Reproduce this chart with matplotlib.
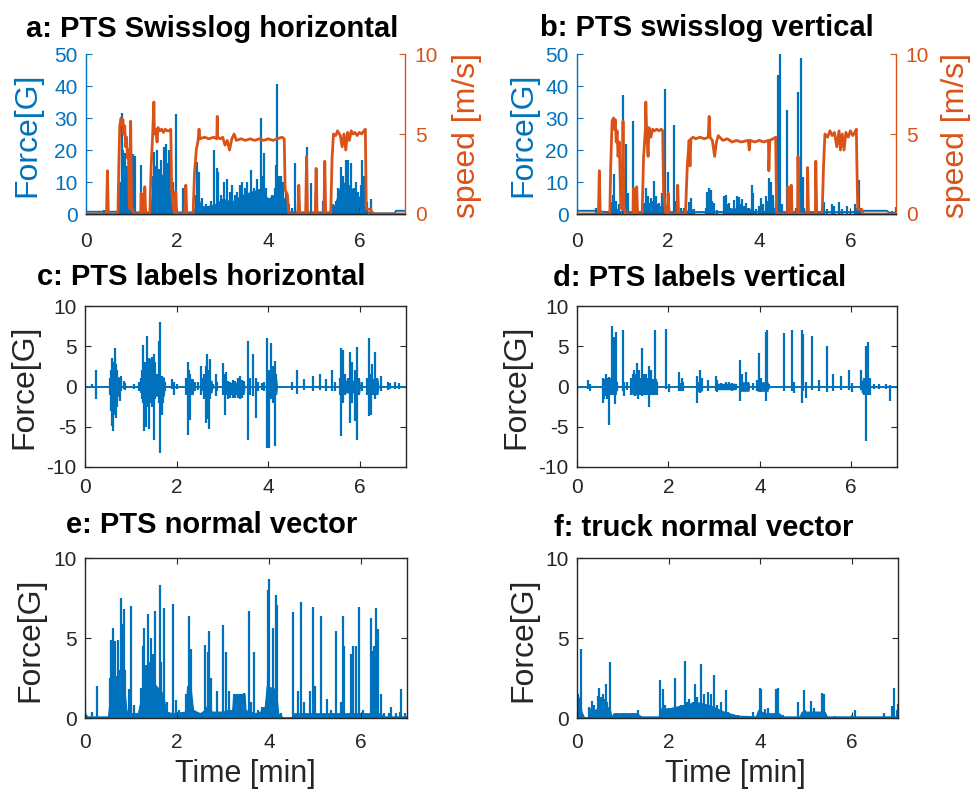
import matplotlib
matplotlib.use('Agg')
import matplotlib.pyplot as plt

plt.rcParams['font.family'] = ['Liberation Sans', 'DejaVu Sans']
plt.rcParams['axes.unicode_minus'] = False

BLUE = '#0072BD'
ORANGE = '#D95319'
DARK = '#262626'

# ---------- a : PTS Swisslog horizontal ----------
a_base_t = [0, 0.70, 0.72, 2.38, 2.40, 4.40, 4.42, 6.30, 6.32, 6.78, 6.80, 7.0]
a_base_y = [0.7, 0.7, 0.5, 0.5, 1.8, 1.8, 0.5, 0.5, 0.2, 0.2, 1.0, 1.0]
a_fill_t = [0.70, 0.72, 0.76, 0.80, 0.84, 0.88, 0.92, 0.95, 0.97,
            1.38, 1.40, 1.43, 1.48, 1.55, 1.62, 1.70, 1.78, 1.85, 1.90, 1.92,
            2.36, 2.38, 2.42, 2.46, 2.52, 2.60, 2.80, 3.00, 3.20, 3.40, 3.60, 3.80, 4.00, 4.20, 4.35, 4.40, 4.42,
            5.38, 5.40, 5.45, 5.55, 5.65, 5.75, 5.85, 5.95, 6.05, 6.12, 6.15, 6.17]
a_fill_y = [0, 2, 8, 12, 10, 9, 6, 2, 0,
            0, 1, 6, 10, 12, 13, 12, 10, 8, 2, 0,
            0, 2, 8, 6, 3, 2.5, 3, 5, 4, 6, 7, 8, 5, 7, 5, 2, 0,
            0, 2, 3, 8, 10, 9, 8, 6, 5, 4, 2, 0]
a_spk_t = [0.40, 0.75, 0.78, 0.80, 0.82, 0.85, 0.89, 0.94, 0.98, 1.04, 1.07, 1.20, 1.24, 1.29,
           1.42, 1.46, 1.49, 1.52, 1.55, 1.60, 1.65, 1.71, 1.75, 1.78, 1.82, 1.86, 1.92, 1.98,
           2.12, 2.19,
           2.41, 2.44, 2.49, 2.55, 2.63, 2.74, 2.81, 2.87, 2.90, 2.97, 3.03, 3.10, 3.16, 3.21, 3.26, 3.32, 3.38,
           3.43, 3.48, 3.54, 3.61, 3.69, 3.76, 3.83, 3.87, 3.91, 3.96, 4.02, 4.09, 4.14, 4.18, 4.20, 4.24,
           4.27, 4.33, 4.38,
           4.45, 4.51, 4.58, 4.67, 4.84, 4.93, 5.04, 5.21,
           5.41, 5.48, 5.53, 5.59, 5.63, 5.65, 5.70, 5.74, 5.77, 5.81, 5.87, 5.92, 5.97, 6.03, 6.06, 6.10, 6.17, 6.26]
a_spk_h = [1.2, 10, 31.5, 22, 20, 19, 15, 12, 10, 18.7, 18, 15.3, 5, 3,
           4, 12, 19.5, 15, 20, 14, 17, 21, 22, 16, 20, 12, 10, 31.2,
           8.2, 8,
           6, 16.3, 13.2, 5, 3, 4, 20, 14.3, 13, 6, 10, 11, 7, 9, 6, 7, 9,
           10, 8, 10, 13.7, 8, 11, 29.9, 12, 19, 8, 5, 6, 8, 15.3, 40.6, 12,
           12, 10, 7,
           3, 2, 15.8, 3, 21, 9.6, 5, 4,
           3, 4, 8, 14.8, 10, 12, 16.8, 17, 9, 15.8, 8, 10, 7, 9, 16.9, 12, 3.9, 4.6]
a_spd_t = [0, 0.45, 0.47, 0.49, 0.70, 0.72, 0.74, 0.77, 0.79, 0.81, 0.83, 0.85, 0.87, 0.89, 0.91, 0.93, 0.95, 0.97, 0.98, 1.00, 1.05,
           1.20, 1.21, 1.23, 1.28, 1.29, 1.31, 1.40, 1.43, 1.46, 1.49, 1.50, 1.53, 1.56, 1.58, 1.62, 1.66, 1.70, 1.74, 1.78, 1.82, 1.86, 1.88, 1.92, 1.95,
           1.97, 1.99, 2.17, 2.19, 2.21, 2.35, 2.38, 2.42, 2.46, 2.48, 2.50, 2.60, 2.70, 2.80, 2.87, 2.88, 2.89, 2.95, 3.00, 3.05, 3.10, 3.15, 3.20, 3.25, 3.30,
           3.40, 3.50, 3.60, 3.70, 3.80, 3.90, 4.00, 4.10, 4.20, 4.30, 4.35, 4.37, 4.42, 4.45,
           4.65, 4.67, 4.69, 4.82, 4.84, 4.86, 5.03, 5.05, 5.07, 5.22, 5.24, 5.26, 5.37, 5.40, 5.43, 5.48, 5.52, 5.58, 5.62, 5.66, 5.70, 5.74, 5.78, 5.82, 5.86, 5.90,
           5.95, 6.00, 6.05, 6.10, 6.13, 6.15, 6.25, 6.28, 7.0]
a_spd_v = [0, 0, 2.7, 0, 0, 3, 5.5, 6.0, 5.6, 5.9, 5.0, 5.5, 4.2, 4.8, 3.5, 4.0, 0.5, 0.3, 5.8, 0.5, 0,
           0, 1.3, 0, 0, 1.7, 0, 0, 3, 4.8, 7.0, 5.0, 5.3, 4.5, 5.4, 5.2, 5.3, 5.1, 5.3, 5.2, 5.2, 5.3, 1.5, 0.3, 0,
           1.4, 0, 0, 1.8, 0, 0, 2.5, 4.0, 4.6, 5.3, 4.7, 4.8, 4.7, 4.8, 4.7, 6.1, 4.8, 4.7, 4.8, 4.3, 4.6, 4.0, 4.7, 5.0, 4.6,
           4.7, 4.6, 4.7, 4.6, 4.7, 4.6, 4.7, 4.6, 4.7, 4.8, 4.7, 1.5, 1.2, 0,
           0, 1.8, 0, 0, 3.6, 0, 0, 2.85, 0, 0, 3.3, 0, 0, 3.5, 5.0, 4.9, 5.2, 4.9, 4.2, 5.0, 4.0, 5.1, 4.6, 5.2, 5.0, 5.1,
           4.9, 5.1, 5.0, 5.2, 5.3, 0.3, 0.3, 0, 0]

# ---------- b : PTS swisslog vertical ----------
b_base_t = [0, 0.40, 0.42, 0.70, 6.25, 6.30, 6.80, 6.85, 7.0]
b_base_y = [1.0, 1.0, 0.8, 0.6, 0.6, 1.0, 1.0, 0.4, 0.4]
b_fill_t = [0.74, 0.76, 0.85, 0.95, 0.97, 1.42, 1.45, 1.55, 1.70, 1.85, 1.90, 1.92, 2.38, 2.42, 2.50, 2.56, 2.58,
            3.18, 3.22, 3.50, 3.75, 3.90, 3.95, 4.00, 4.20, 4.35, 4.37]
b_fill_y = [0, 1.5, 2, 1, 0, 0, 2, 3, 3, 2.5, 1, 0, 0, 1.5, 2, 1, 0,
            0, 1.5, 2, 2, 1, 0, 0, 2, 2, 0]
b_spk_t = [0.42, 0.77, 0.79, 0.82, 0.85, 0.93, 1.02, 1.07, 1.11, 1.23, 1.29,
           1.44, 1.48, 1.51, 1.54, 1.56, 1.59, 1.62, 1.66, 1.69, 1.73, 1.77, 1.80, 1.86, 1.90, 1.93, 1.99, 2.02, 2.13, 2.17,
           2.28, 2.35, 2.46, 2.51, 2.57, 2.83, 2.86, 2.90, 2.94, 2.97, 3.01, 3.08,
           3.23, 3.27, 3.30, 3.34, 3.39, 3.45, 3.51, 3.56, 3.59, 3.63, 3.67, 3.70, 3.78, 3.83, 3.86, 3.92,
           4.00, 4.03, 4.09, 4.14, 4.18, 4.21, 4.25, 4.29, 4.31, 4.36, 4.40, 4.45, 4.49, 4.60, 4.65,
           4.80, 4.85, 4.91, 4.95, 4.98, 5.42, 5.49, 5.60, 5.64, 5.75, 5.82, 5.93, 6.11, 6.15, 6.19, 6.22, 6.92, 6.99]
b_spk_h = [1.8, 3.9, 6, 12.6, 4, 3, 37.1, 22, 6.5, 29.2, 2,
           2.5, 3.4, 8.1, 4, 5.5, 3.5, 5, 4, 10.2, 5.5, 3, 3.4, 6.7, 3.9, 39.2, 13, 2, 27.8, 4,
           2, 2, 3.9, 4.9, 1.5, 2, 7.0, 8.1, 7.5, 4, 3.4, 1.2,
           5.5, 6, 3, 3.5, 2, 4.4, 5.5, 5.2, 3, 4.6, 2.5, 3.4, 2, 9.1, 6.5, 1.5,
           2.5, 4.9, 3, 5.5, 4, 11.2, 9.9, 6, 4.4, 3, 43.4, 50, 3, 32.5, 1,
           2, 38, 48.6, 11.7, 2, 3.9, 1.5, 3.1, 2.5, 3.9, 1.5, 2.5, 3.1, 2, 10.7, 2, 1, 2.3]
b_spd_t = [0, 0.47, 0.49, 0.51, 0.72, 0.74, 0.77, 0.80, 0.82, 0.84, 0.86, 0.88, 0.90, 0.93, 0.96, 0.99, 1.01, 1.03, 1.08,
           1.23, 1.24, 1.26, 1.30, 1.31, 1.33, 1.43, 1.46, 1.50, 1.51, 1.53, 1.56, 1.58, 1.62, 1.66, 1.70, 1.75, 1.80, 1.85, 1.88, 1.90, 1.95,
           1.99, 2.00, 2.02, 2.20, 2.21, 2.23, 2.38, 2.42, 2.46, 2.48, 2.50, 2.55, 2.60, 2.70, 2.80, 2.88, 2.90, 2.92, 2.97, 3.02, 3.06, 3.10,
           3.20, 3.30, 3.40, 3.50, 3.60, 3.76, 3.78, 3.80, 3.90, 4.00, 4.10, 4.20, 4.21, 4.23, 4.30, 4.36, 4.38,
           4.62, 4.63, 4.65, 4.69, 4.70, 4.72, 4.84, 4.85, 4.87, 5.05, 5.06, 5.08, 5.23, 5.24, 5.26, 5.38, 5.41, 5.44, 5.50, 5.55, 5.60, 5.65, 5.70, 5.75, 5.78, 5.82, 5.86, 5.90,
           5.95, 6.00, 6.05, 6.10, 6.13, 6.14, 6.16, 6.25, 6.27, 7.0]
b_spd_v = [0, 0, 2.7, 0, 0, 3, 5.8, 6.0, 5.3, 5.9, 4.5, 5.2, 3.6, 4.5, 0.4, 0.3, 5.8, 0.4, 0,
           0, 1.6, 0, 0, 1.7, 0, 0, 3.5, 5.3, 7.0, 5.0, 3.6, 5.4, 4.8, 5.3, 5.2, 5.3, 5.2, 5.3, 5.2, 1.3, 0,
           0, 1.3, 0, 0, 1.8, 0, 0, 3.0, 4.6, 3.0, 4.7, 4.8, 4.7, 4.8, 4.7, 4.8, 6.1, 4.8, 4.6, 3.6, 4.5, 4.9,
           4.6, 4.7, 4.5, 4.6, 4.5, 4.6, 4.0, 4.6, 4.5, 4.6, 4.5, 4.6, 2.7, 4.6, 4.7, 4.8, 0,
           0, 1.7, 0, 0, 1.8, 0, 0, 3.6, 0, 0, 2.9, 0, 0, 3.3, 0, 0, 3.0, 5.0, 4.8, 5.2, 4.9, 5.1, 4.2, 5.2, 4.0, 5.0, 4.0, 5.1,
           4.8, 5.2, 4.9, 5.1, 5.3, 3.4, 0.3, 0.3, 0, 0]

# ---------- c : PTS labels horizontal ----------
c_base_t = [0, 7]
c_base_y = [0, 0]
c_t = [0.16, 0.25,
       0.55, 0.57, 0.58, 0.60, 0.61, 0.63, 0.65, 0.66, 0.68, 0.70, 0.72, 0.76, 0.78, 0.85, 0.88, 1.07, 1.18,
       1.22, 1.25, 1.27, 1.29, 1.31, 1.33, 1.35, 1.37, 1.39, 1.41, 1.43, 1.46, 1.50, 1.52, 1.55, 1.58, 1.61, 1.64, 1.67, 1.70, 1.74,
       1.90, 1.94, 2.00,
       2.20, 2.24, 2.27, 2.30, 2.33, 2.40, 2.47, 2.52, 2.55, 2.60, 2.63, 2.65, 2.67, 2.70, 2.72, 2.75, 2.80,
       2.85, 2.88, 3.02, 3.05, 3.08, 3.12, 3.17, 3.22, 3.28, 3.33, 3.38, 3.42, 3.47,
       3.56, 3.60, 3.67, 3.72, 3.78, 3.85, 3.90, 3.97, 4.01, 4.06, 4.10, 4.14, 4.17,
       4.52, 4.63, 4.77, 4.97, 5.13, 5.26, 5.39, 5.45,
       5.55, 5.58, 5.61, 5.63, 5.68, 5.73, 5.78, 5.82, 5.88, 5.93, 5.97,
       6.05, 6.15, 6.20, 6.23, 6.26, 6.33, 6.36, 6.45, 6.60, 6.65, 6.75, 6.85]
c_hi = [0.3, 2.0,
        1.0, 2.0, 3.6, 2.5, 3.0, 2.2, 4.75, 3.4, 2.8, 2.0, 0.7, 1.0, 1.3, 0.7, 0.4, 0.3, 0.5,
        1.0, 2.0, 5.2, 2.5, 3.0, 1.5, 6.3, 2.0, 3.5, 3.4, 2.0, 3.7, 4.0, 3.0, 1.0, 1.5, 5.6, 8.0, 1.3, 1.0, 0.5,
        0.9, 0.5, 0.3,
        1.0, 3.1, 2.0, 1.5, 0.8, 0.5, 0.6, 2.5, 1.0, 1.5, 2.6, 3.2, 4.0, 2.0, 3.4, 0.5, 0.3,
        1.5, 0.5, 2.9, 1.5, 1.8, 0.7, 0.6, 0.8, 0.7, 1.0, 1.3, 0.8, 0.7,
        5.7, 1.0, 4.0, 1.0, 0.5, 0.4, 0.6, 6.0, 2.0, 5.4, 2.5, 3.2, 1.5,
        0.6, 2.0, 0.9, 1.3, 1.6, 0.9, 2.0, 0.5,
        1.0, 4.75, 2.0, 4.5, 1.5, 1.0, 4.25, 3.0, 2.0, 4.9, 1.0,
        0.5, 1.0, 6.0, 1.5, 2.8, 4.3, 1.0, 1.3, 0.5, 0.4, 0.5, 0.4]
c_lo = [-0.2, -1.6,
        -1.0, -3.0, -4.9, -2.5, -5.5, -3.0, -2.0, -3.5, -3.9, -2.5, -1.0, -1.8, -0.5, -0.3, -0.4, -0.3, -0.5,
        -0.8, -1.5, -2.0, -5.5, -3.0, -5.0, -2.5, -2.2, -5.3, -2.0, -1.5, -2.5, -6.6, -1.5, -1.0, -1.0, -2.0, -8.2, -3.5, -2.1, -0.5,
        -0.3, -1.0, -0.3,
        -1.0, -6.0, -2.0, -4.1, -1.0, -0.5, -0.4, -1.0, -0.5, -1.5, -4.5, -2.0, -4.0, -5.3, -1.5, -0.8, -0.3,
        -1.2, -0.5, -1.0, -3.5, -1.0, -1.5, -1.4, -1.4, -1.4, -1.4, -1.6, -1.4, -0.8,
        -6.6, -1.0, -1.2, -3.9, -0.5, -0.4, -0.5, -7.7, -7.6, -1.5, -2.0, -7.4, -0.5,
        -0.4, -0.9, -0.4, -0.5, -0.4, -0.6, -0.5, -0.5,
        -1.0, -6.2, -2.0, -2.0, -1.0, -0.8, -4.5, -2.0, -4.3, -6.7, -1.0,
        -0.5, -1.0, -3.7, -3.5, -1.0, -1.5, -0.8, -0.5, -0.4, -0.3, -0.3, -0.3]
c_blk_t = [0.53, 0.55, 0.76, 0.78, 1.20, 1.22, 1.73, 1.75, 2.18, 2.20, 2.36, 2.38, 2.58, 2.60, 2.77, 2.79,
           3.14, 3.16, 3.47, 3.49, 3.93, 3.95, 4.18, 4.20, 5.53, 5.55, 5.99, 6.01, 6.17, 6.19, 6.39, 6.41]
c_blk_hi = [0, 1.2, 1.2, 0, 0, 1.2, 1.2, 0, 0, 1.0, 1.0, 0, 0, 0.8, 0.8, 0,
            0, 0.5, 0.5, 0, 0, 1.0, 1.0, 0, 0, 0.8, 0.8, 0, 0, 1.0, 1.0, 0]
c_blk_lo = [0, -1.2, -1.2, 0, 0, -1.2, -1.2, 0, 0, -1.0, -1.0, 0, 0, -0.8, -0.8, 0,
            0, -1.0, -1.0, 0, 0, -1.0, -1.0, 0, 0, -0.8, -0.8, 0, 0, -1.0, -1.0, 0]

# ---------- d : PTS labels vertical ----------
d_t = [0.00, 0.23, 0.29,
       0.56, 0.59, 0.63, 0.66, 0.71, 0.74, 0.76, 0.80, 0.83, 0.85, 0.88, 1.00, 1.02, 1.10,
       1.19, 1.22, 1.24, 1.27, 1.31, 1.33, 1.36, 1.39, 1.43, 1.46, 1.50, 1.54, 1.58, 1.61, 1.65, 1.71, 1.75,
       1.95, 2.02, 2.24, 2.29, 2.32, 2.62, 2.70, 2.73,
       2.86, 3.04, 3.07, 3.15, 3.25, 3.33, 3.40, 3.47,
       3.57, 3.62, 3.69, 3.75, 3.85, 3.93, 3.99, 4.02, 4.13, 4.16, 4.20,
       4.53, 4.70, 4.75, 4.92, 4.95, 5.02, 5.13, 5.30,
       5.46, 5.59, 5.77, 5.95, 6.02,
       6.22, 6.27, 6.33, 6.37, 6.41, 6.50, 6.60, 6.75, 6.85]
d_hi = [0.2, 0.8, 0.3,
        1.1, 0.8, 1.5, 1.0, 1.2, 1.0, 7.5, 6.1, 1.0, 6.8, 0.5, 7.0, 0.5, 0.6,
        1.0, 1.5, 2.0, 1.5, 2.9, 1.0, 2.0, 1.0, 4.75, 1.5, 1.5, 1.0, 2.6, 2.0, 0.8, 7.0, 0.5,
        7.2, 0.3, 1.75, 1.0, 0.5, 1.3, 2.0, 1.1,
        0.8, 1.3, 0.8, 0.4, 0.5, 0.6, 0.4, 0.3,
        3.3, 1.6, 1.75, 0.5, 0.4, 0.8, 4.1, 1.0, 6.75, 7.0, 0.3,
        6.6, 7.0, 0.5, 7.0, 6.5, 0.5, 6.3, 0.8,
        5.0, 1.6, 1.3, 2.0, 0.4,
        2.0, 1.0, 5.0, 5.5, 1.0, 0.3, 0.3, 0.3, 0.2]
d_lo = [-1.0, -0.3, -0.5,
        -2.1, -1.5, -1.2, -1.5, -4.8, -1.0, -0.8, -1.0, -2.2, -0.5, -0.5, -0.5, -1.2, -0.4,
        -1.0, -0.8, -1.0, -1.2, -1.0, -1.5, -0.8, -1.0, -1.2, -1.0, -0.8, -1.0, -2.6, -1.0, -0.5, -0.5, -1.0,
        -0.3, -0.7, -0.5, -0.5, -0.5, -2.1, -0.8, -0.5,
        -0.5, -0.5, -0.7, -0.4, -0.4, -0.4, -0.5, -0.3,
        -1.8, -0.5, -0.6, -0.5, -0.4, -0.5, -0.5, -0.7, -1.8, -0.5, -0.3,
        -0.5, -0.5, -0.8, -2.1, -0.5, -1.4, -0.4, -0.5,
        -0.7, -0.5, -0.4, -0.4, -0.7,
        -0.4, -1.0, -6.8, -1.0, -1.0, -0.3, -0.3, -0.3, -1.8]
d_blk_t = [0.53, 0.55, 0.86, 0.88, 1.18, 1.20, 1.74, 1.76, 2.22, 2.24, 2.31, 2.33, 2.60, 2.62, 2.73, 2.75,
           3.00, 3.02, 3.48, 3.50, 3.55, 3.57, 3.76, 3.78, 3.92, 3.94, 4.18, 4.20, 6.20, 6.22, 6.40, 6.42]
d_blk_hi = [0, 1.0, 1.0, 0, 0, 1.0, 1.0, 0, 0, 0.5, 0.5, 0, 0, 0.6, 0.6, 0,
            0, 0.4, 0.4, 0, 0, 0.6, 0.6, 0, 0, 0.6, 0.6, 0, 0, 0.8, 0.8, 0]
d_blk_lo = [0, -1.0, -1.0, 0, 0, -1.0, -1.0, 0, 0, -0.5, -0.5, 0, 0, -0.6, -0.6, 0,
            0, -0.4, -0.4, 0, 0, -0.6, -0.6, 0, 0, -0.6, -0.6, 0, 0, -0.8, -0.8, 0]

# ---------- e : PTS normal vector ----------
e_fill_t = [0, 0.05, 0.50, 0.53, 0.56, 0.65, 0.75, 0.85, 0.90, 0.95, 1.15, 1.20, 1.25, 1.40, 1.55, 1.70, 1.76, 1.90,
            2.18, 2.22, 2.30, 2.35, 2.50, 2.60, 2.70, 2.75, 3.00, 3.10, 3.20, 3.22, 3.47, 3.49, 3.70, 3.90, 3.95,
            4.15, 4.20, 4.30, 4.50, 4.55, 6.40, 6.50, 7.0]
e_fill_y = [0.3, 0.1, 0.1, 1.0, 2.7, 2.5, 2.7, 2.0, 0.5, 0.3, 0.3, 1.0, 2.2, 2.5, 2.0, 1.5, 0.4, 0.3,
            0.4, 2.0, 1.8, 0.5, 0.3, 0.5, 1.0, 0.4, 0.4, 0.5, 0.5, 1.5, 1.5, 0.5, 0.3, 0.5, 2.0,
            1.8, 0.3, 0.05, 0.05, 0.3, 0.3, 0.1, 0.1]
e_spk_t = [0.01, 0.16, 0.25,
           0.55, 0.56, 0.60, 0.62, 0.63, 0.66, 0.69, 0.71, 0.74, 0.78, 0.81, 0.85, 0.87, 0.96, 1.00, 1.07, 1.10,
           1.21, 1.25, 1.29, 1.32, 1.37, 1.39, 1.43, 1.47, 1.52, 1.56, 1.63, 1.66, 1.71, 1.78, 1.83,
           1.92, 1.97, 2.05, 2.20, 2.25, 2.30, 2.38, 2.48,
           2.61, 2.67, 2.70, 2.74, 2.87, 3.01, 3.06, 3.14,
           3.25, 3.30, 3.35, 3.40, 3.45,
           3.57, 3.61, 3.68, 3.75, 3.85, 3.90,
           3.97, 3.98, 4.01, 4.08, 4.15, 4.18, 4.25,
           4.53, 4.62, 4.69, 4.77, 4.90, 4.95, 5.00, 5.12,
           5.27, 5.34, 5.46, 5.56, 5.61, 5.63, 5.79, 5.83, 5.90, 5.95, 6.04,
           6.21, 6.24, 6.28, 6.33, 6.37, 6.43, 6.50, 6.60, 6.66, 6.75, 6.84, 6.87, 6.95]
e_spk_h = [1.0, 0.4, 2.0,
           2.5, 4.9, 5.6, 3.5, 4.7, 4.8, 2.6, 4.9, 3.0, 7.5, 5.9, 6.8, 3.0, 1.8, 7.0, 0.8, 0.3,
           1.9, 4.5, 5.6, 3.3, 6.5, 3.5, 5.0, 4.0, 6.7, 1.0, 8.3, 3.5, 6.9, 1.0, 0.3,
           7.1, 1.1, 0.5, 1.5, 6.35, 4.3, 0.5, 0.3,
           4.55, 4.1, 5.45, 2.5, 1.7, 5.8, 4.15, 1.7,
           1.5, 1.5, 1.5, 1.5, 1.55,
           6.7, 1.0, 4.15, 0.5, 0.7, 0.7,
           8.0, 2.5, 8.7, 5.65, 7.7, 7.05, 0.3,
           6.6, 1.7, 7.25, 1.0, 1.7, 6.95, 2.0, 6.35,
           1.2, 0.5, 5.45, 1.0, 6.35, 4.5, 4.0, 4.5, 4.5, 6.95, 0.5,
           6.25, 4.2, 4.5, 6.9, 5.55, 1.5, 0.3, 0.3, 0.7, 0.3, 0.4, 1.8, 0.3]

# ---------- f : truck normal vector ----------
f_fill_t = [0, 0.05, 0.10, 0.15, 0.25, 0.28, 0.40, 0.50, 0.60, 0.72, 0.75, 0.80, 1.30, 1.40, 1.78, 1.82, 2.00,
            2.30, 2.60, 2.90, 3.20, 3.50, 3.90, 3.95, 4.10, 4.40, 4.50, 4.85, 4.90, 5.40, 5.45, 6.95, 7.0]
f_fill_y = [1.5, 1.2, 0.4, 0.05, 0.05, 0.6, 0.5, 0.8, 0.9, 0.5, 0.1, 0.3, 0.3, 0.1, 0.1, 0.6, 0.6,
            0.8, 1.0, 0.8, 0.4, 0.15, 0.1, 0.5, 0.3, 0.3, 0.1, 0.1, 0.4, 0.4, 0.1, 0.1, 0.5]
f_spk_t = [0.01, 0.03, 0.06, 0.09, 0.13,
           0.27, 0.32, 0.38, 0.46, 0.49, 0.52, 0.56, 0.59, 0.63, 0.66, 0.71,
           0.85, 1.00, 1.20, 1.33,
           1.82, 1.87, 1.92, 2.00, 2.13, 2.20, 2.27, 2.35, 2.40, 2.45, 2.52, 2.58, 2.62, 2.71, 2.78, 2.86, 2.92,
           2.99, 3.05, 3.13, 3.26, 3.30, 3.45, 3.52,
           3.84, 3.98, 4.02, 4.09, 4.17, 4.35, 4.39, 4.50,
           4.82, 4.94, 4.97, 5.10, 5.17, 5.35, 5.38,
           5.62, 5.99, 6.06, 6.70, 6.86, 6.91, 6.97, 7.0]
f_spk_h = [1.6, 1.5, 0.8, 4.3, 0.2,
           0.7, 1.05, 0.8, 1.4, 1.9, 1.3, 1.5, 1.2, 2.1, 1.0, 3.5,
           0.3, 0.3, 0.3, 0.5,
           2.35, 1.8, 0.8, 0.6, 2.5, 0.6, 0.8, 3.55, 1.0, 1.2, 1.0, 2.1, 1.3, 3.35, 1.5, 1.6, 1.5,
           2.7, 0.8, 1.0, 1.75, 0.4, 0.2, 0.2,
           0.4, 1.9, 1.8, 0.55, 0.6, 1.8, 1.85, 0.2,
           1.0, 1.75, 0.5, 1.05, 0.6, 1.55, 1.5,
           0.15, 0.2, 0.5, 0.3, 0.75, 1.9, 0.5, 0.9]

x_ticks = [0, 2, 4, 6]

W, H = 974, 792
fig = plt.figure(figsize=(W / 100, H / 100), dpi=100)

SPK_LW = 1.6


def rect(l, t, r, b):
    return [l / W, 1 - b / H, (r - l) / W, (b - t) / H]


def ftext(x, y, s, **kw):
    fig.text(x / W, 1 - y / H, s, **kw)


def box_axes(r, ylim, yticks, xpad):
    ax = fig.add_axes(r)
    ax.set_xlim(0, 7)
    ax.set_ylim(*ylim)
    ax.set_xticks(x_ticks)
    ax.set_yticks(yticks)
    for s in ax.spines.values():
        s.set_color(DARK)
        s.set_linewidth(1.0)
    ax.tick_params(direction='in', length=4, width=0.8, colors=DARK, labelsize=15,
                   top=True, right=True)
    ax.tick_params(axis='x', pad=xpad)
    ax.tick_params(axis='y', pad=6)
    return ax


def yy_axes(r):
    ax = fig.add_axes(r)
    ax2 = ax.twinx()
    ax.set_xlim(0, 7)
    ax.set_ylim(0, 50)
    ax.set_yticks([0, 10, 20, 30, 40, 50])
    ax.set_xticks(x_ticks)
    ax2.set_ylim(0, 10)
    ax2.set_yticks([0, 5, 10])
    for a in (ax, ax2):
        a.spines['top'].set_visible(False)
        a.spines['bottom'].set_color(DARK)
        a.spines['bottom'].set_linewidth(1.0)
    ax.spines['right'].set_visible(False)
    ax2.spines['left'].set_visible(False)
    ax.spines['left'].set_color(BLUE)
    ax.spines['left'].set_linewidth(1.0)
    ax2.spines['right'].set_color(ORANGE)
    ax2.spines['right'].set_linewidth(1.0)
    ax.tick_params(axis='y', direction='in', length=4, width=0.8, colors=BLUE, labelsize=15, pad=6)
    ax.tick_params(axis='x', direction='in', length=4, width=0.8, colors=DARK, labelsize=15, pad=13)
    ax2.tick_params(axis='y', direction='in', length=4, width=0.8, colors=ORANGE, labelsize=15, pad=7)
    return ax, ax2


# a
ax, ax2 = yy_axes(rect(86, 54, 405, 214))
ax.fill_between(a_fill_t, 0, a_fill_y, color=BLUE, lw=0)
ax.plot(a_base_t, a_base_y, color=BLUE, lw=1.4)
ax.vlines(a_spk_t, 0, a_spk_h, color=BLUE, lw=SPK_LW)
ax2.plot(a_spd_t, a_spd_v, color=ORANGE, lw=2.0)

# b
ax, ax2 = yy_axes(rect(577, 54, 896, 214))
ax.fill_between(b_fill_t, 0, b_fill_y, color=BLUE, lw=0)
ax.plot(b_base_t, b_base_y, color=BLUE, lw=1.4)
ax.vlines(b_spk_t, 0, b_spk_h, color=BLUE, lw=SPK_LW)
ax2.plot(b_spd_t, b_spd_v, color=ORANGE, lw=2.0)

# c
ax = box_axes(rect(85, 306, 406, 467), (-10, 10), [-10, -5, 0, 5, 10], 8)
ax.fill_between(c_blk_t, c_blk_lo, c_blk_hi, color=BLUE, lw=0)
ax.plot(c_base_t, c_base_y, color=BLUE, lw=1.4)
ax.vlines(c_t, c_lo, c_hi, color=BLUE, lw=SPK_LW)

# d
ax = box_axes(rect(577, 306, 897, 467), (-10, 10), [-10, -5, 0, 5, 10], 8)
ax.fill_between(d_blk_t, d_blk_lo, d_blk_hi, color=BLUE, lw=0)
ax.plot(c_base_t, c_base_y, color=BLUE, lw=1.4)
ax.vlines(d_t, d_lo, d_hi, color=BLUE, lw=SPK_LW)

# e
ax = box_axes(rect(85, 558, 407, 718), (0, 10), [0, 5, 10], 11)
ax.fill_between(e_fill_t, 0, e_fill_y, color=BLUE, lw=0.8)
ax.vlines(e_spk_t, 0, e_spk_h, color=BLUE, lw=SPK_LW)

# f
ax = box_axes(rect(577, 558, 898, 718), (0, 10), [0, 5, 10], 11)
ax.fill_between(f_fill_t, 0, f_fill_y, color=BLUE, lw=0.8)
ax.vlines(f_spk_t, 0, f_spk_h, color=BLUE, lw=SPK_LW)

# titles
tkw = dict(fontsize=21, fontweight='bold', ha='center', va='baseline', color='black')
ftext(212, 37, 'a: PTS Swisslog horizontal', **tkw)
ftext(707, 36, 'b: PTS swisslog vertical', **tkw)
ftext(201, 285, 'c: PTS labels horizontal', **tkw)
ftext(700, 286, 'd: PTS labels vertical', **tkw)
ftext(212, 533, 'e: PTS normal vector', **tkw)
ftext(704, 536, 'f: truck normal vector', **tkw)

# axis labels
lkw = dict(fontsize=23, rotation=90, ha='center', va='center')
ftext(27, 135, 'Force[G]', color=BLUE, **lkw)
ftext(467, 135, 'speed [m/s]', color=ORANGE, **lkw)
ftext(523, 135, 'Force[G]', color=BLUE, **lkw)
ftext(956, 135, 'speed [m/s]', color=ORANGE, **lkw)
ftext(24, 387, 'Force[G]', color=DARK, **lkw)
ftext(516, 387, 'Force[G]', color=DARK, **lkw)
ftext(30, 640, 'Force[G]', color=DARK, **lkw)
ftext(523, 640, 'Force[G]', color=DARK, **lkw)
ftext(245, 782, 'Time [min]', fontsize=22, ha='center', va='baseline', color=DARK)
ftext(735, 782, 'Time [min]', fontsize=22, ha='center', va='baseline', color=DARK)

fig.savefig('out.png', dpi=100)
